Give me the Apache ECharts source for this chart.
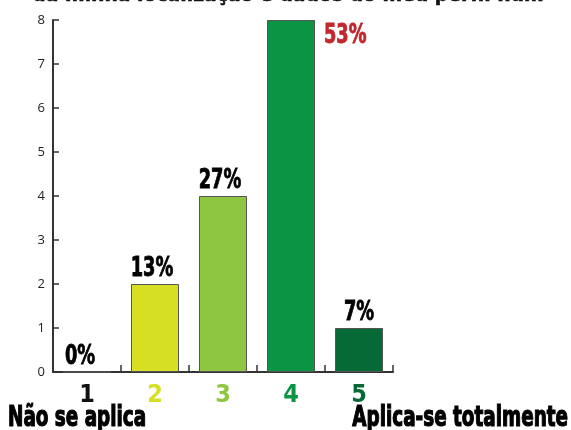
<!DOCTYPE html>
<html>
<head>
<meta charset="utf-8">
<script src="https://cdn.jsdelivr.net/npm/echarts@6/dist/echarts.min.js"></script>
<style>
html, body { margin: 0; padding: 0; background: #fff; }
#chart { width: 571px; height: 430px; }
</style>
</head>
<body>
<div id="chart"></div>
<script>
// Scale answers 1..5 with response counts
const categories = ['1', '2', '3', '4', '5'];
const counts = [0, 2, 4, 8, 1];
const percentLabels = ['0%', '13%', '27%', '53%', '7%'];
const barColors = ['#ffffff', '#d7df23', '#8dc63f', '#0b9444', '#066a37'];
const categoryColors = ['#111111', '#d7df23', '#8dc63f', '#0b9444', '#066a37'];
const yTicks = [0, 1, 2, 3, 4, 5, 6, 7, 8];
const titleText = 'da minha localização e dados do meu perfil num';
const leftCaption = 'Não se aplica';
const rightCaption = 'Aplica-se totalmente';

const boldFont = '"DejaVu Sans Condensed", "Liberation Sans Narrow", sans-serif';
const narrow = 0.76;

const chart = echarts.init(document.getElementById('chart'));

// Percentage labels drawn as narrowed text anchored on each bar top
function renderPercent(params, api) {
  const i = params.dataIndex;
  const pt = api.coord([api.value(0), api.value(1)]);
  const isPeak = i === 3;
  const style = {
    text: percentLabels[i],
    font: 'bold 26px ' + boldFont,
    fill: isPeak ? '#c1272d' : '#000',
    stroke: isPeak ? '#c1272d' : '#000',
    lineWidth: 0.8,
    align: isPeak ? 'left' : 'center',
    verticalAlign: isPeak ? 'top' : 'bottom'
  };
  let x = pt[0] - 3;
  let y = pt[1] - 2;
  if (isPeak) { x = pt[0] + 24 + 9; y = pt[1] + 3; }
  if (i === 0) { x -= 4; }
  if (i === 4) { x += 3; }
  return { type: 'text', x: x, y: y, scaleX: narrow, style: style };
}

chart.setOption({
  animation: false,
  graphic: [
    {
      type: 'text',
      x: 288,
      y: -16,
      scaleX: 0.95,
      style: {
        text: titleText,
        font: 'bold 22px ' + boldFont,
        fill: '#111',
        stroke: '#111',
        lineWidth: 0.6,
        align: 'center'
      }
    },
    {
      type: 'text',
      x: 8,
      y: 405,
      scaleX: 0.73,
      style: {
        text: leftCaption,
        font: 'bold 28px ' + boldFont,
        fill: '#000',
        stroke: '#000',
        lineWidth: 1.2,
        align: 'left'
      }
    },
    {
      type: 'text',
      x: 568,
      y: 405,
      scaleX: 0.73,
      style: {
        text: rightCaption,
        font: 'bold 28px ' + boldFont,
        fill: '#000',
        stroke: '#000',
        lineWidth: 1.2,
        align: 'right'
      }
    }
  ],
  grid: { left: 53, right: 178, top: 20, bottom: 58 },
  xAxis: {
    type: 'category',
    data: categories,
    axisLine: { lineStyle: { color: '#333', width: 2 } },
    axisTick: { show: true, inside: true, length: 7, lineStyle: { color: '#333', width: 1.5 } },
    axisLabel: {
      margin: 11,
      fontFamily: boldFont,
      fontWeight: 'bold',
      fontSize: 25,
      color: (value, index) => categoryColors[index],
      textBorderColor: 'inherit',
      textBorderWidth: 0.8
    }
  },
  yAxis: {
    type: 'value',
    min: 0,
    max: 8,
    interval: 1,
    splitLine: { show: false },
    axisLine: { show: true, lineStyle: { color: '#333', width: 2 } },
    axisTick: { show: true, inside: true, length: 6, lineStyle: { color: '#333', width: 1.5 } },
    axisLabel: {
      margin: 8,
      fontFamily: '"Open Sans", sans-serif',
      fontSize: 13,
      color: '#222',
      formatter: v => (yTicks.indexOf(v) >= 0 ? String(v) : '')
    }
  },
  series: [
    {
      type: 'bar',
      data: counts.map((v, i) => ({ value: v, itemStyle: { color: barColors[i] } })),
      barWidth: 48,
      itemStyle: { borderColor: '#555', borderWidth: 1 }
    },
    {
      type: 'custom',
      data: counts.map((v, i) => [i, v]),
      renderItem: renderPercent,
      z: 5
    }
  ]
});
</script>
</body>
</html>
